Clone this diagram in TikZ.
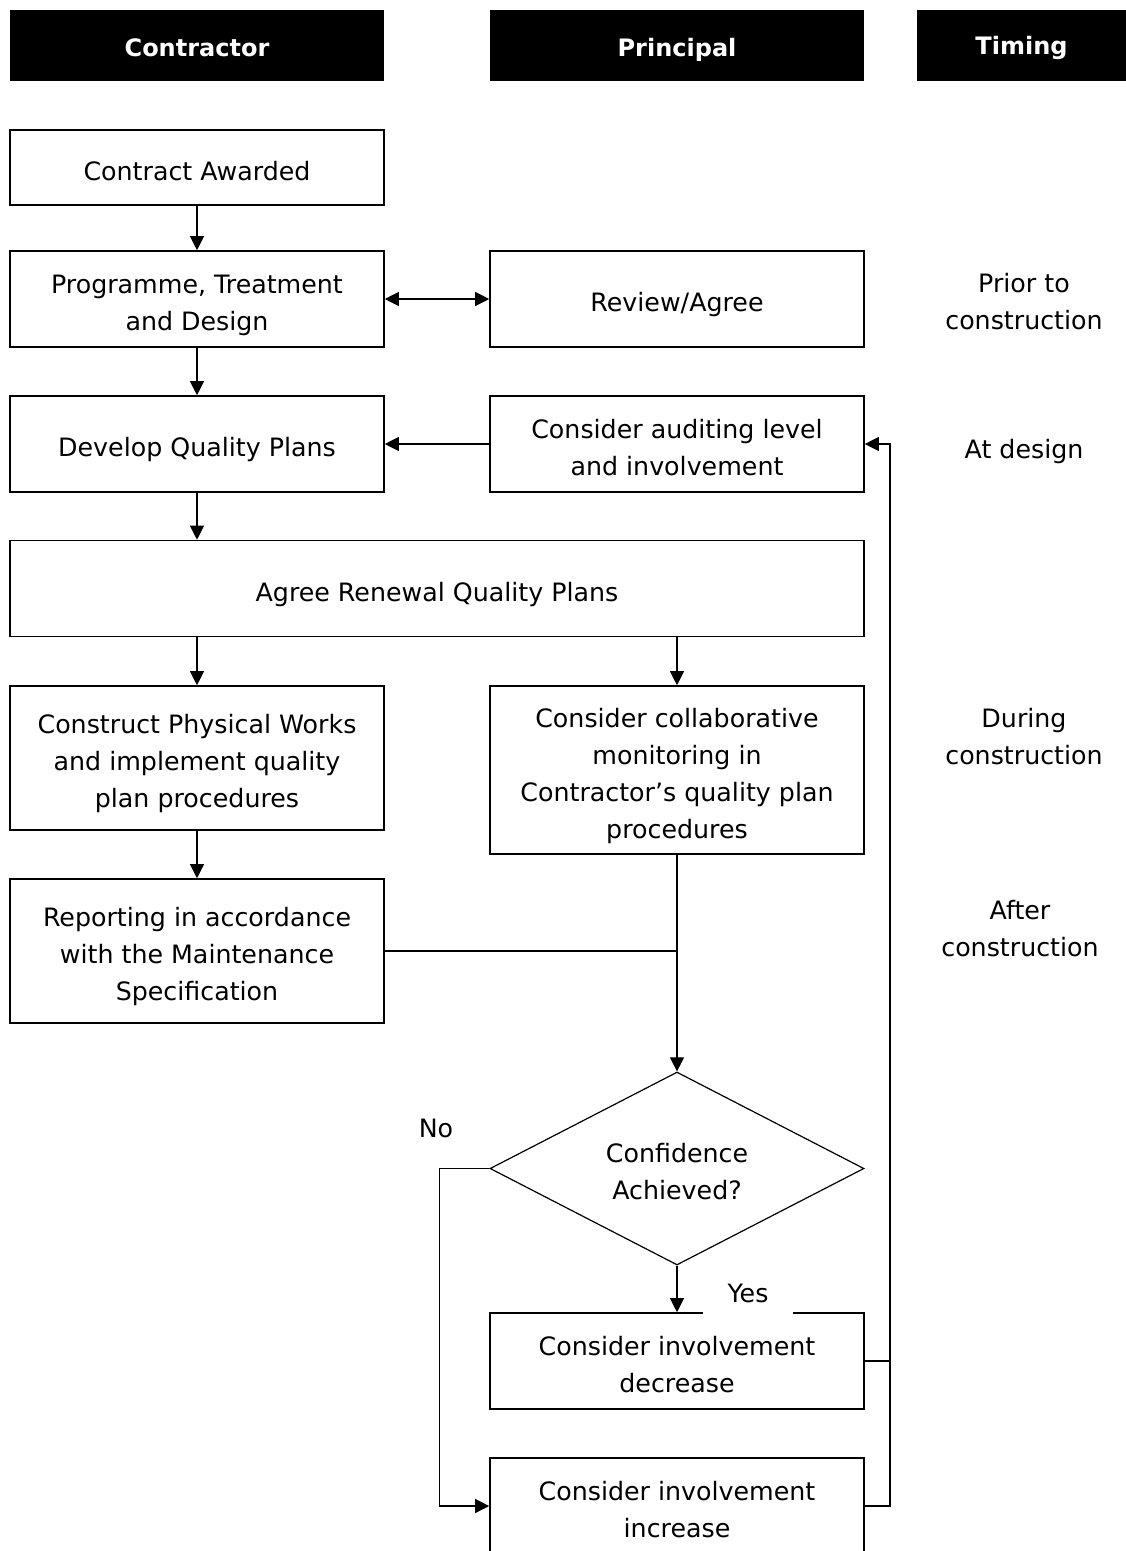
\documentclass[tikz,border=0pt]{standalone}
\usepackage{fontspec}
\setmainfont{DejaVu Sans}
\usetikzlibrary{shapes.geometric,arrows.meta}
\begin{document}
\begin{tikzpicture}[x=1pt,y=-1pt,
  every node/.style={font=\fontsize{25.3}{37}\selectfont, align=center, inner sep=0pt},
  header/.style={fill=black, text=white, font=\fontsize{24}{30}\selectfont\bfseries,
    minimum height=71pt, text height=22pt, text depth=0pt},
  box/.style={draw=black, line width=1.6pt, minimum width=374pt},
  % fixed text boxes so that one to four lines sit evenly in their frames
  lone/.style={text height=25pt, text depth=0pt},
  ltwo/.style={text height=62pt, text depth=0pt},
  lthree/.style={text height=99pt, text depth=0pt},
  lfour/.style={text height=136pt, text depth=0pt},
  lbl/.style={},
  conn/.style={line width=1.1pt},
  arr/.style={conn, -{Triangle[length=14pt,width=14pt]}},
  biarr/.style={conn, {Triangle[length=14pt,width=14pt]}-{Triangle[length=14pt,width=14pt]}}
]
\useasboundingbox (0,0) rectangle (1126,1551);
\clip (0,0) rectangle (1126,1551);

% column headers
\node[header, minimum width=374pt] (hcon) at (197,45) {Contractor};
\node[header, minimum width=374pt] (hpri) at (677,45) {Principal};
\node[header, minimum width=209pt, text height=19pt] (htim) at (1021.5,45) {Timing};

% contractor column
\node[box, lone, minimum height=75pt] (ca) at (197,167.5) {Contract Awarded};
\node[box, ltwo, minimum height=96pt] (ptd) at (197,299) {Programme, Treatment\\and Design};
\node[box, lone, minimum height=96pt] (dqp) at (197,444) {Develop Quality Plans};
\node[box, lthree, minimum height=144pt] (cpw) at (197,758) {Construct Physical Works\\and implement quality\\plan procedures};
\node[box, lthree, minimum height=144pt] (rep) at (197,951) {Reporting in accordance\\with the Maintenance\\Specification};

% principal column
\node[box, lone, minimum height=96pt] (ra) at (677,299) {Review/Agree};
\node[box, ltwo, minimum height=96pt] (cal) at (677,444) {Consider auditing level\\and involvement};
\node[box, lfour, minimum height=168pt] (ccm) at (677,770) {Consider collaborative\\monitoring in\\Contractor’s quality plan\\procedures};
\node[box, ltwo, minimum height=96pt] (dec) at (677,1361) {Consider involvement\\decrease};
\node[box, ltwo, minimum height=96pt] (inc) at (677,1506) {Consider involvement\\increase};

% shared box
\node[box, lone, minimum width=854pt, minimum height=96pt] (arq) at (437,588.5) {Agree Renewal Quality Plans};

% decision
\node[draw=black, line width=1.2pt, diamond, aspect=1.94, minimum width=374pt,
  minimum height=193pt, ltwo] (conf) at (677,1168.5) {Confidence\\Achieved?};

% timing labels
\node[lbl] (tprior) at (1024,302) {Prior to\\construction};
\node[lbl, text height=22pt, text depth=0pt] (tdesign) at (1024,447) {At design};
\node[lbl] (tduring) at (1024,737) {During\\construction};
\node[lbl] (tafter) at (1020,929) {After\\construction};

% connectors
\coordinate (rail) at (890,0);
\draw[arr] (ca) -- (ptd);
\draw[biarr] (ptd) -- (ra);
\draw[arr] (ptd) -- (dqp);
\draw[arr] (cal) -- (dqp);
\draw[arr] (dqp.south) -- (dqp.south |- arq.north);
\draw[arr] (arq.south -| cpw.north) -- (cpw.north);
\draw[arr] (arq.south -| ccm.north) -- (ccm.north);
\draw[arr] (cpw) -- (rep);
\draw[arr] (ccm.south) -- (conf.north);
\draw[conn] (rep.east) -- (rep.east -| ccm.south);
\draw[arr] (conf.south) -- (dec.north);
\draw[arr] (conf.west) -- ([xshift=-50pt]conf.west) |- (inc.west);
\draw[conn] (dec.east) -- (dec.east -| rail);
\draw[arr] (inc.east) -- (inc.east -| rail) |- (cal.east);

% branch labels
\node[fill=white, minimum width=90pt, minimum height=44pt] (yes) at (748,1293) {Yes};
\node (no) at (436,1128) {No};
\end{tikzpicture}
\end{document}
